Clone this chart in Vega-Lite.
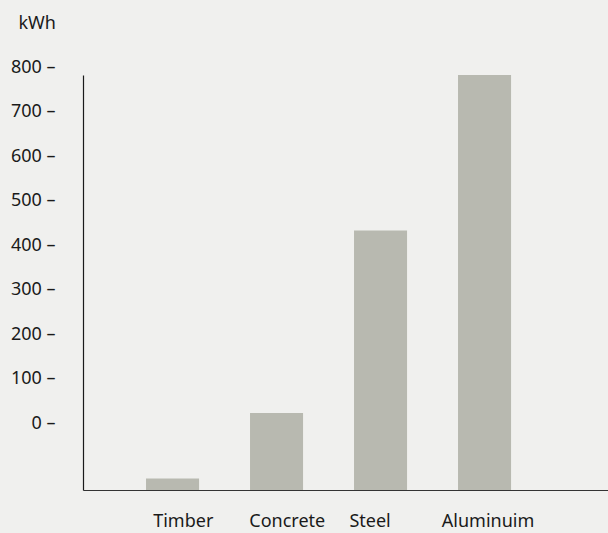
{
  "$schema": "https://vega.github.io/schema/vega-lite/v6.json",
  "width": 525,
  "height": 415,
  "autosize": "none",
  "padding": {"left": 83, "top": 75, "right": 0, "bottom": 43},
  "background": "#f0f0ee",
  "config": {
    "view": {"stroke": null},
    "font": "Noto Sans",
    "axis": {"labelFont": "Noto Sans", "titleFont": "Noto Sans", "labelColor": "#1a1a1a", "titleColor": "#1a1a1a"}
  },
  "data": {
    "values": [
      {"material": "Timber", "kwh": -124},
      {"material": "Concrete", "kwh": 23},
      {"material": "Steel", "kwh": 433},
      {"material": "Aluminuim", "kwh": 782}
    ]
  },
  "mark": {"type": "bar", "color": "#b8b9b0"},
  "encoding": {
    "x": {
      "field": "material",
      "type": "nominal",
      "sort": null,
      "scale": {"paddingInner": 0.49, "paddingOuter": 0.769, "align": 0.394},
      "axis": {
        "title": null,
        "labelAngle": 0,
        "ticks": false,
        "domainColor": "#333333",
        "domainWidth": 1.2,
        "labelFontSize": 18,
        "labelPadding": 22,
        "labelOffset": {"condition": [
          {"test": "datum.value === 'Steel'", "value": -10.5},
          {"test": "datum.value === 'Aluminuim'", "value": 3.5}
        ], "value": 10.7}
      }
    },
    "y": {
      "field": "kwh",
      "type": "quantitative",
      "scale": {"domain": [-150, 800], "range": [415, -8], "nice": false, "zero": false},
      "axis": {
        "title": "kWh",
        "titleAngle": 0,
        "titleAlign": "left",
        "titleBaseline": "alphabetic",
        "titleX": -65,
        "titleY": -47,
        "titleFontSize": 18,
        "titleFontWeight": "normal",
        "values": [0, 100, 200, 300, 400, 500, 600, 700, 800],
        "labelExpr": "datum.label + ' –'",
        "ticks": false,
        "grid": false,
        "domainColor": "#1a1a1a",
        "domainWidth": 1.2,
        "domainDash": [415, 40],
        "labelFontSize": 18,
        "labelPadding": 28,
        "labelBound": false,
        "labelFlush": false,
        "labelOverlap": false
      }
    },
    "y2": {"datum": -150}
  }
}
